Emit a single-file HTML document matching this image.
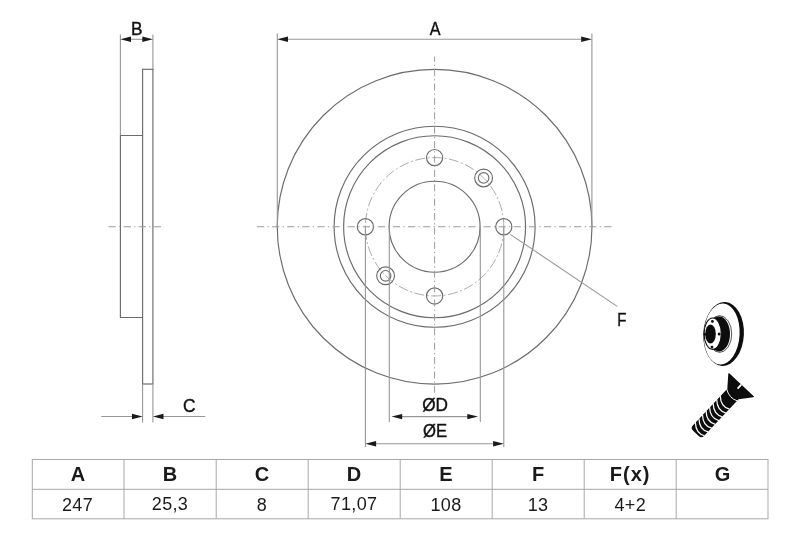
<!DOCTYPE html>
<html>
<head>
<meta charset="utf-8">
<title>Brake disc drawing</title>
<style>
html,body{margin:0;padding:0;background:#fff;}
body{width:800px;height:533px;overflow:hidden;position:relative;font-family:"Liberation Sans",sans-serif;}
svg{position:absolute;left:0;top:0;will-change:transform;}
.l{stroke:#6b6b6b;stroke-width:1.15;fill:none;}
.t{stroke:#979797;stroke-width:1.1;fill:none;}
.c{stroke:#9a9a9a;stroke-width:1;fill:none;stroke-dasharray:7.2 3.3 1.3 3.3;}
.pc{stroke:#a2a2a2;stroke-width:0.9;fill:none;stroke-dasharray:10 2.5 2 2.5;}
.ar{fill:#1a1a1a;stroke:none;}
text{font-family:"Liberation Sans",sans-serif;fill:#111;}
.lab{font-size:18.3px;stroke:#111;stroke-width:0.4;}
.th{font-size:20px;font-weight:bold;text-anchor:middle;fill:#1a1a1a;}
.td{font-size:18px;text-anchor:middle;fill:#1a1a1a;letter-spacing:0.35px;}
.g{stroke:#a8a8a8;stroke-width:1;fill:none;}
</style>
</head>
<body>
<svg width="800" height="533" viewBox="0 0 800 533">
<!-- ===== front view ===== -->
<g id="front">
<circle class="l" cx="434.6" cy="226.75" r="157.35"/>
<circle class="l" cx="434.6" cy="226.75" r="100.5"/>
<circle class="l" cx="434.6" cy="226.75" r="91"/>
<circle class="l" cx="434.6" cy="226.75" r="45.5"/>
<circle class="pc" cx="434.6" cy="226.75" r="69.2"/>
<!-- bolt holes -->
<circle class="l" cx="434.6" cy="157.55" r="8.1"/>
<circle class="l" cx="434.6" cy="295.95" r="8.1"/>
<circle class="l" cx="365.4" cy="226.75" r="8.1"/>
<circle class="l" cx="503.8" cy="226.75" r="8.1"/>
<!-- small locating holes -->
<circle class="l" cx="483.6" cy="177.95" r="8.9"/>
<circle class="l" cx="483.6" cy="177.95" r="5.3"/>
<circle class="l" cx="385.6" cy="275.8" r="8.9"/>
<circle class="l" cx="385.6" cy="275.8" r="5.3"/>
<!-- center lines -->
<line class="c" x1="257" y1="226.75" x2="611.7" y2="226.75"/>
<line class="c" x1="434.6" y1="56.7" x2="434.6" y2="392.6" style="stroke-dasharray:7 3.05 1.3 3.05;stroke-dashoffset:2"/>
<!-- A dimension -->
<line class="t" x1="277.3" y1="33.5" x2="277.3" y2="226.75"/>
<line class="t" x1="591.9" y1="33.5" x2="591.9" y2="226.75"/>
<line class="t" x1="280" y1="39.3" x2="589" y2="39.3"/>
<path class="ar" d="M277.3 39.3 L288 36.6 L288 42 Z"/>
<path class="ar" d="M591.9 39.3 L581.2 36.6 L581.2 42 Z"/>
<!-- D / E extension lines -->
<line class="t" x1="389.3" y1="226.75" x2="389.3" y2="422"/>
<line class="t" x1="480.3" y1="226.75" x2="480.3" y2="422"/>
<line class="t" x1="365.4" y1="226.75" x2="365.4" y2="447"/>
<line class="t" x1="503.8" y1="226.75" x2="503.8" y2="447"/>
<line class="t" x1="395" y1="416.6" x2="475" y2="416.6"/>
<path class="ar" d="M391.5 416.6 L402.2 413.9 L402.2 419.3 Z"/>
<path class="ar" d="M478 416.6 L467.3 413.9 L467.3 419.3 Z"/>
<line class="t" x1="370" y1="443.7" x2="500" y2="443.7"/>
<path class="ar" d="M365.4 443.7 L376.1 441 L376.1 446.4 Z"/>
<path class="ar" d="M503.8 443.7 L493.1 441 L493.1 446.4 Z"/>
<!-- F leader -->
<line class="t" x1="510.3" y1="234.4" x2="617.2" y2="306.4"/>
</g>

<!-- ===== side view ===== -->
<g id="side">
<line class="t" x1="120.4" y1="34.5" x2="120.4" y2="136"/>
<line class="t" x1="152.9" y1="34.5" x2="152.9" y2="70"/>
<line class="t" x1="125" y1="39.3" x2="148" y2="39.3"/>
<path class="ar" d="M120.4 39.3 L131 36.6 L131 42 Z"/>
<path class="ar" d="M152.9 39.3 L142.3 36.6 L142.3 42 Z"/>
<path class="l" d="M120.4 135.5 H142.6 M120.4 135.5 V317.5 H142.6"/>
<rect class="l" x="142.6" y="69.3" width="10.3" height="314.7"/>
<line class="c" x1="108.5" y1="226.75" x2="162.5" y2="226.75"/>
<!-- C dimension -->
<line class="t" x1="142.6" y1="384" x2="142.6" y2="422.5"/>
<line class="t" x1="152.9" y1="384" x2="152.9" y2="422.5"/>
<line class="t" x1="101.3" y1="416.5" x2="138" y2="416.5"/>
<line class="t" x1="158" y1="416.5" x2="205.2" y2="416.5"/>
<path class="ar" d="M142.6 416.5 L132 413.8 L132 419.2 Z"/>
<path class="ar" d="M152.9 416.5 L163.5 413.8 L163.5 419.2 Z"/>
</g>


<!-- ===== icons ===== -->
<g id="disc-icon">
<ellipse cx="723.6" cy="334" rx="20.3" ry="32" fill="#0d0d0d" transform="rotate(3 723.6 334)"/>
<ellipse cx="721.7" cy="334" rx="17.9" ry="30.6" fill="#fff" transform="rotate(3 721.7 334)"/>
<!-- hub back -->
<ellipse cx="719.6" cy="334" rx="12.1" ry="18.4" fill="#fff" stroke="#0d0d0d" stroke-width="0.7"/>
<ellipse cx="719.3" cy="334" rx="10.7" ry="17.4" fill="#0d0d0d"/>
<!-- hub body -->
<path d="M712.7 317.9 L719.3 316.6 L719.3 351.4 L712.7 349.5 Z" fill="#0d0d0d"/>
<!-- hub front -->
<ellipse cx="712.7" cy="333.7" rx="8.6" ry="15.7" fill="#fff" stroke="#0d0d0d" stroke-width="1.1"/>
<ellipse cx="710.5" cy="334" rx="5.3" ry="9.4" fill="#0d0d0d"/>
<circle cx="712.4" cy="321.4" r="1.4" fill="#0d0d0d"/>
<circle cx="712" cy="347.1" r="1.4" fill="#0d0d0d"/>
<circle cx="719.2" cy="334" r="1.5" fill="#0d0d0d"/>
<circle cx="705" cy="334.3" r="1.4" fill="#0d0d0d"/>
</g>
<g id="screw-icon" transform="translate(741.5,384.8) rotate(43.2)">
<!-- local: x across, y along axis (towards tip) -->
<path d="M-17.2 0 L17.2 0 L17.2 1 L7.7 12.5 L7.7 63 Q7.7 66.6 3.5 66.6 L-3.5 66.6 Q-7.7 66.6 -7.7 63 L-7.7 12.5 L-17.2 1 Z" fill="#0d0d0d"/>
<path d="M-0.3 0 L-0.3 5.4" stroke="#fff" stroke-width="1.8" fill="none"/>
<path d="M-8.2 13 Q0 18.5 8.2 14.5" stroke="#fff" stroke-width="0.9" fill="none"/>
<g stroke="#fff" stroke-width="1.25" fill="none">
<path d="M-8 22.5 Q0 30.5 8 26.0"/>
<path d="M-8 27.7 Q0 35.7 8 31.2"/>
<path d="M-8 32.9 Q0 40.9 8 36.4"/>
<path d="M-8 38.1 Q0 46.1 8 41.6"/>
<path d="M-8 43.3 Q0 51.3 8 46.8"/>
<path d="M-8 48.5 Q0 56.5 8 52.0"/>
<path d="M-8 53.7 Q0 61.7 8 57.2"/>
<path d="M-8 58.9 Q0 66.9 8 62.4"/>
</g>
</g>

<!-- ===== labels ===== -->
<g id="labels">
<text class="lab" transform="translate(429.8,34.7) scale(0.88,1)">A</text>
<text class="lab" transform="translate(131,34.7) scale(0.94,1)">B</text>
<text class="lab" transform="translate(183,411.5) scale(0.95,1)">C</text>
<text class="lab" transform="translate(422.2,411) scale(0.94,1)">ØD</text>
<text class="lab" transform="translate(423,437.4) scale(0.91,1)">ØE</text>
<text class="lab" transform="translate(617.3,325.6) scale(0.82,1)">F</text>
</g>

<!-- ===== table ===== -->
<g id="table">
<rect class="g" x="32.3" y="459.5" width="735.7" height="59.3"/>
<line class="g" x1="32.3" y1="489.3" x2="768" y2="489.3"/>
<path class="g" d="M124 459.5V518.8 M216.2 459.5V518.8 M308.2 459.5V518.8 M400.2 459.5V518.8 M492.2 459.5V518.8 M584.2 459.5V518.8 M676.2 459.5V518.8"/>
<text class="th" x="78.1" y="481.3">A</text>
<text class="th" x="170" y="481.3">B</text>
<text class="th" x="262" y="481.3">C</text>
<text class="th" x="354" y="481.3">D</text>
<text class="th" x="446" y="481.3">E</text>
<text class="th" x="538" y="481.3">F</text>
<text class="th" x="630.2" y="481.3" style="letter-spacing:1px">F(x)</text>
<text class="th" x="722.6" y="481.3">G</text>
<text class="td" x="77.5" y="510.5">247</text>
<text class="td" x="170" y="509.5">25,3</text>
<text class="td" x="262" y="510.5">8</text>
<text class="td" x="354" y="509.5">71,07</text>
<text class="td" x="446" y="510.5">108</text>
<text class="td" x="538" y="510.5">13</text>
<text class="td" x="630.3" y="510.5">4+2</text>
</g>
</svg>
</body>
</html>
